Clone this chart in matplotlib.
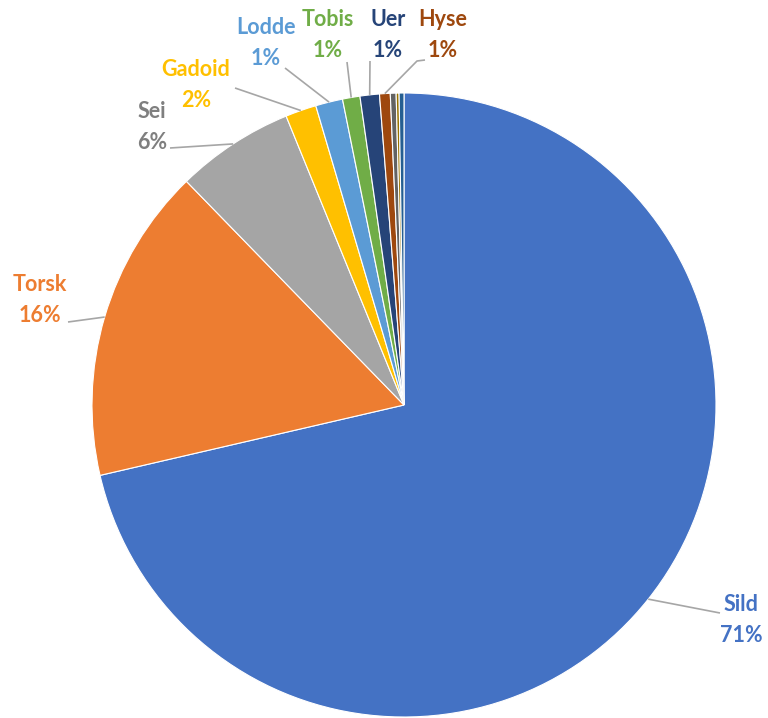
import matplotlib.pyplot as plt
import numpy as np

plt.rcParams['font.family'] = ['Lato', 'DejaVu Sans']

# catch share by species, in percent
species = ["Sild", "Torsk", "Sei", "Gadoid", "Lodde", "Tobis", "Uer", "Hyse", "", "", ""]
share = [71.2, 16.3, 6.1, 1.6, 1.4, 0.9, 1.0, 0.55, 0.3, 0.15, 0.25]
colors = ["#4472C4", "#ED7D31", "#A5A5A5", "#FFC000", "#5B9BD5", "#70AD47",
          "#264478", "#9E480E", "#636363", "#997300", "#255E91"]
label_colors = ["#4472C4", "#ED7D31", "#7F7F7F", "#FFC000", "#5B9BD5", "#70AD47",
                "#264478", "#9E480E"]

# label placement in pixels: text centre, then leader line points (near text first)
label_pos = [(741, 620), (40, 300), (152, 127), (196, 85), (266, 43),
             (328, 35), (388, 35), (443, 35)]
leader = [[(720, 613)], [(68, 322)], [(170, 148)], [(235, 88)], [(285, 68)],
          [(347, 62)], [(370, 61)], [(425, 60), (417, 61)]]

W, H = 768, 718
cx, cy, R = 404, 405, 312

fig = plt.figure(figsize=(W / 100, H / 100), dpi=100)
ax = fig.add_axes([0, 0, 1, 1])
ax.axis('off')


def px(p):
    return ((p[0] - cx) / R, (cy - p[1]) / R)


wedges, _ = ax.pie(share, colors=colors, startangle=90, counterclock=False,
                   radius=1.0, wedgeprops=dict(edgecolor='white', linewidth=0.8))
ax.set_aspect('auto')
ax.set_xlim(-cx / R, (W - cx) / R)
ax.set_ylim(-(H - cy) / R, cy / R)

for i, name in enumerate(species[:8]):
    w = wedges[i]
    mid = np.deg2rad((w.theta1 + w.theta2) / 2)
    edge = (np.cos(mid), np.sin(mid))
    pts = [px(p) for p in leader[i]] + [edge]
    xs, ys = zip(*pts)
    ax.plot(xs, ys, color='#A6A6A6', lw=1.2, solid_capstyle='butt')
    tx, ty = px(label_pos[i])
    ax.text(tx, ty, f"{name}\n{round(share[i]):.0f}%", ha='center', va='center',
            fontsize=15.5, fontweight='bold', color=label_colors[i], linespacing=1.55)

fig.savefig("out.png", dpi=100)
